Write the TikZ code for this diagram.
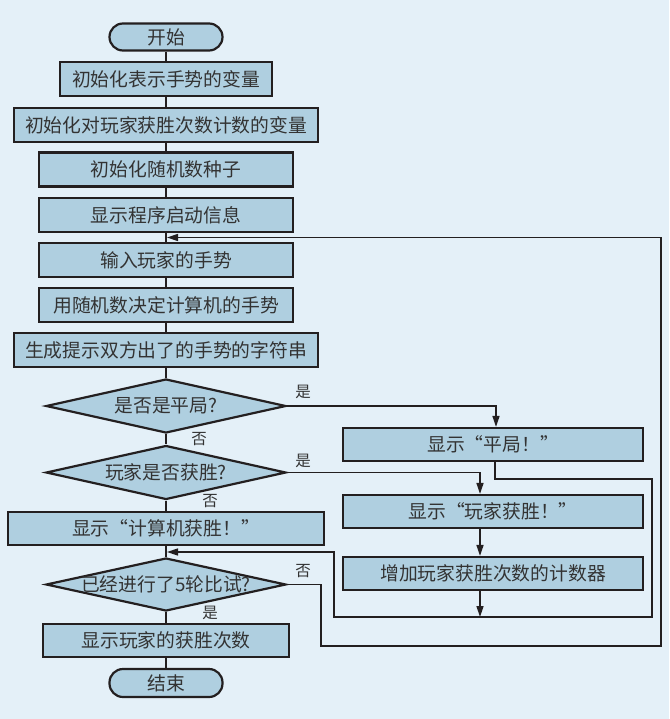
\documentclass[tikz,border=0pt]{standalone}
\usepackage{fontspec}
\setmainfont{Noto Sans CJK SC}
\usetikzlibrary{shapes.geometric,arrows.meta,calc}
\definecolor{bg}{HTML}{E4F0F8}
\definecolor{boxfill}{HTML}{AFCFE0}
\definecolor{edge}{HTML}{231F20}
\definecolor{txt}{HTML}{333333}
\begin{document}
\begin{tikzpicture}[x=1pt,y=-1pt,
  every node/.style={text=txt},
  procbox/.style={draw=edge,line width=2.2pt,fill=boxfill,inner sep=0pt,
    minimum height=34pt,font=\fontsize{18.8}{18.8}\selectfont},
  termbox/.style={procbox,rounded corners=13.5pt,minimum width=113pt,minimum height=27pt},
  decbox/.style={diamond,draw=edge,line width=2.2pt,fill=boxfill,inner sep=0pt,
    minimum width=240pt,minimum height=54pt},
  dectext/.style={font=\fontsize{18.8}{18.8}\selectfont,text=txt},
  lbl/.style={font=\fontsize{15.5}{15.5}\selectfont,inner sep=0pt},
  conn/.style={draw=edge,line width=1.5pt},
  arr/.style={conn,-{Triangle[length=11pt,width=7pt]}}]
\useasboundingbox (0,0) rectangle (669,719);
\fill[bg] (0,0) rectangle (669,719);
% main column
\node[termbox] (start) at (166,37) {开始};
\node[procbox,minimum width=212pt] (b1) at (166,79) {初始化表示手势的变量};
\node[procbox,minimum width=304pt] (b2) at (166,125) {初始化对玩家获胜次数计数的变量};
\node[procbox,minimum width=254pt] (b3) at (166,169.5) {初始化随机数种子};
\node[procbox,minimum width=254pt] (b4) at (166,215) {显示程序启动信息};
\node[procbox,minimum width=254pt] (b5) at (166,260) {输入玩家的手势};
\node[procbox,minimum width=254pt] (b6) at (166,305) {用随机数决定计算机的手势};
\node[procbox,minimum width=304pt] (b7) at (166,350) {生成提示双方出了的手势的字符串};
\node[decbox,label={[dectext]center:是否是平局?}] (d1) at (166,406) {};
\node[decbox,label={[dectext]center:玩家是否获胜?}] (d2) at (166,472.5) {};
\node[procbox,minimum width=316pt,minimum height=33pt] (cw) at (166,528.5) {显示“计算机获胜！”};
\node[decbox,minimum height=53pt,label={[dectext]center:已经进行了5轮比试?}] (d3) at (166,584.5) {};
\node[procbox,minimum width=246pt,minimum height=33pt] (res) at (166,640.5) {显示玩家的获胜次数};
\node[termbox,minimum height=28pt] (end) at (166,683) {结束};
% right column
\node[procbox,minimum width=300pt,minimum height=33pt] (p1) at (493,444.5) {显示“平局！”};
\node[procbox,minimum width=300pt,minimum height=33pt] (pw) at (493,511.5) {显示“玩家获胜！”};
\node[procbox,minimum width=300pt,minimum height=33pt] (cnt) at (493,573.5) {增加玩家获胜次数的计数器};
% merge points
\coordinate (m1) at (167,237.5);
\coordinate (m2) at (167,552);
\coordinate (j1) at (480,617);
% main connectors
\draw[conn] (start) -- (b1);
\draw[conn] (b1) -- (b2);
\draw[conn] (b2) -- (b3);
\draw[conn] (b3) -- (b4);
\draw[conn] (b4) -- (b5);
\draw[conn] (b5) -- (b6);
\draw[conn] (b6) -- (b7);
\draw[conn] (b7) -- (d1);
\draw[conn] (d1) -- (d2);
\draw[conn] (d2) -- (cw);
\draw[conn] (cw) -- (d3);
\draw[conn] (d3) -- (res);
\draw[conn] (res) -- (end);
% branches
\draw[arr] (d1.east) -| ([xshift=3pt]p1.north);
\draw[arr] (d2.east) -| ([xshift=-13pt]pw.north);
\draw[arr] ([xshift=-13pt]pw.south) -- ([xshift=-13pt]cnt.north);
\draw[arr] ([xshift=-13pt]cnt.south) -- (j1);
\draw[arr] ([xshift=2pt]p1.south) |- (652,479) -- (652,617) -- (334,617) -- (334,552) -- (m2);
\draw[arr] (d3.east) -| (321,646) -- (661,646) -- (661,237.5) -- (m1);
% labels
\node[lbl] (l1) at (303,392) {是};
\node[lbl] (l2) at (199,439) {否};
\node[lbl] (l3) at (303,461) {是};
\node[lbl] (l4) at (210,501) {否};
\node[lbl] (l5) at (303,571) {否};
\node[lbl] (l6) at (210,613) {是};
\end{tikzpicture}
\end{document}
